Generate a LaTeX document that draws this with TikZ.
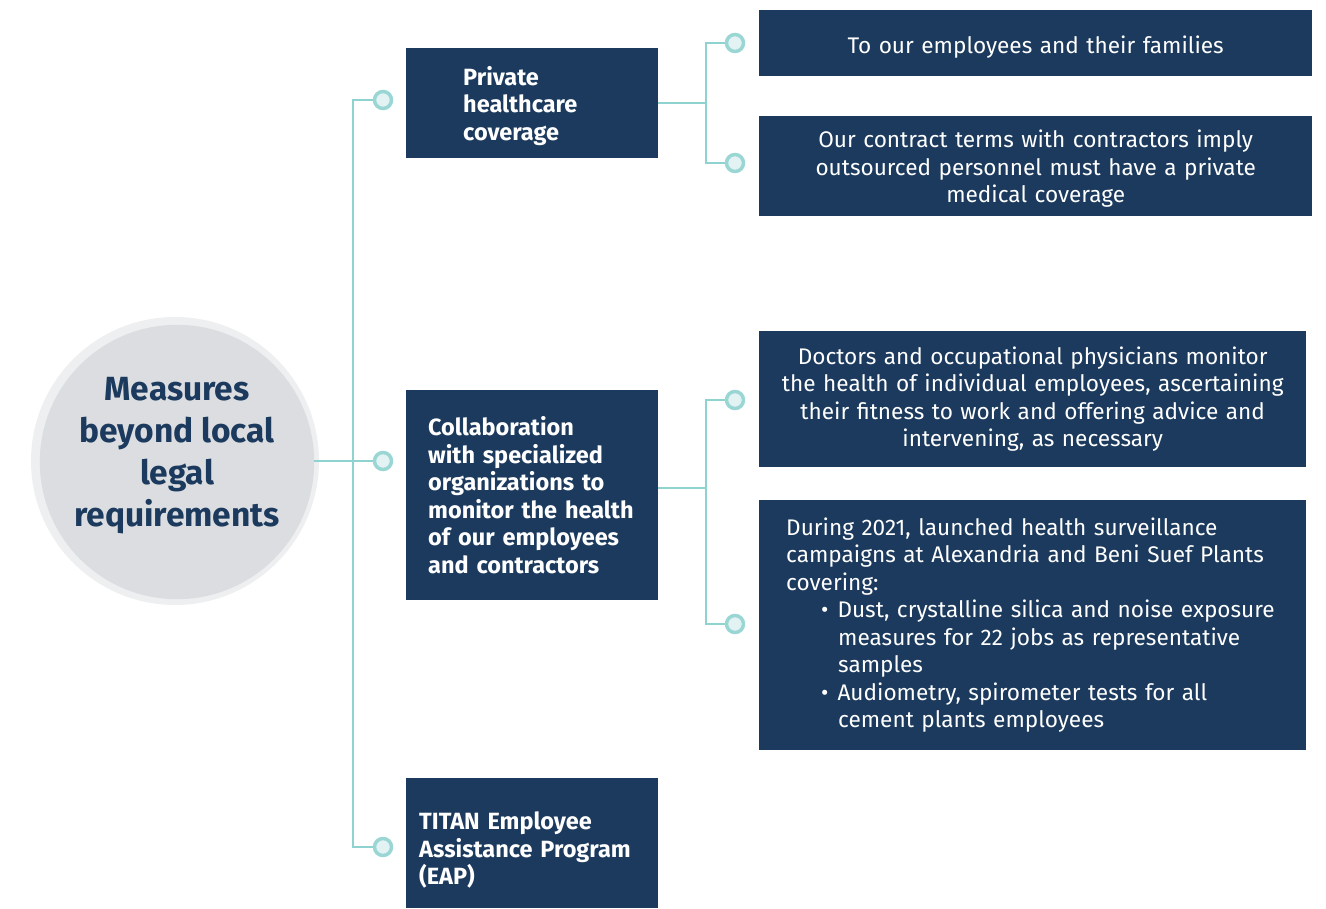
\documentclass[tikz,border=0pt]{standalone}
\usepackage{fontspec}
\setmainfont{Fira Sans}
\definecolor{navy}{HTML}{1B3A5D}
\definecolor{teal2}{HTML}{8FD3D0}
\definecolor{ring}{HTML}{9AD7D4}
\definecolor{ringfill}{HTML}{E3F3F3}
\definecolor{disc}{HTML}{DCDDE0}
\definecolor{halo}{HTML}{EEEFF0}
\begin{document}
\begin{tikzpicture}[x=1pt,y=-1pt,
    link/.style={draw=teal2, line width=2pt},
    dot/.style={circle, draw=ring, line width=3.5pt, fill=ringfill, minimum size=17pt, inner sep=0pt},
    lbox/.style={fill=navy, text=white, anchor=north west, align=left, inner ysep=0pt,
        font=\bfseries\fontsize{23.5}{27.5}\selectfont},
    rbox/.style={fill=navy, text=white, anchor=north west, align=center, inner xsep=0pt, inner ysep=0pt,
        font=\fontsize{22.6}{27.5}\selectfont}]
\useasboundingbox (0,0) rectangle (1326,909);

% root circle
\fill[halo] (175,461) circle (144);
\node[circle, fill=disc, minimum size=272pt, inner sep=0pt, text=navy,
    font=\bfseries\fontsize{33.5}{42}\selectfont] (root) at (177,462)
    {\begin{tabular}{@{}c@{}}Measures\\beyond local\\legal\\requirements\\[14pt]\end{tabular}};

% first level
\node[lbox, minimum height=110pt, inner xsep=57pt, text width=138pt] (hc) at (406,48)
    {\rule{0pt}{24pt}Private\\healthcare\\coverage};
\node[lbox, minimum height=210pt, inner xsep=22pt, text width=208pt] (co) at (406,390)
    {Collaboration\\with specialized\\organizations to\\monitor the health\\of our employees\\and contractors};
\node[lbox, minimum height=130pt, inner xsep=13pt, text width=226pt] (eap) at (406,778)
    {\rule{0pt}{31.5pt}TITAN Employee\\Assistance Program\\(EAP)};

% second level
\node[rbox, minimum height=66pt, text width=553pt] (fam) at (759,10)
    {\rule{0pt}{25pt}To our employees and their families};
\node[rbox, minimum height=100pt, text width=553pt] (ctr) at (759,116)
    {\rule{0pt}{23pt}Our contract terms with contractors imply\\outsourced personnel must have a private\\medical coverage};
\node[rbox, minimum height=136pt, text width=547pt] (doc) at (759,331)
    {Doctors and occupational physicians monitor\\the health of individual employees, ascertaining\\their fitness to work and offering advice and\\intervening, as necessary};
\node[rbox, align=left, minimum height=250pt, inner xsep=27pt, text width=493pt] (sur) at (759,500)
    {During 2021, launched health surveillance\\campaigns at Alexandria and Beni Suef Plants\\covering:\\
    \hspace*{35pt}\textbullet\hspace{9pt}Dust, crystalline silica and noise exposure\\
    \hspace*{52pt}measures for 22 jobs as representative\\
    \hspace*{52pt}samples\\
    \hspace*{35pt}\textbullet\hspace{9pt}Audiometry, spirometer tests for all\\
    \hspace*{52pt}cement plants employees};

% markers
\node[dot] (m1) at (383,100) {};
\node[dot] (m2) at (383,461) {};
\node[dot] (m3) at (383,847) {};
\node[dot] (mA) at (735,43) {};
\node[dot] (mB) at (735,163) {};
\node[dot] (mC) at (735,400) {};
\node[dot] (mD) at (735,624) {};

% connectors
\coordinate (j0) at (353,461);
\coordinate (j1) at (706,103);
\coordinate (j2) at (706,488);
\draw[link] (root.east |- j0) -- (j0) -- (m2.west);
\draw[link] (m1.west) -| (j0) |- (m3.west);
\draw[link] (hc.east |- j1) -- (j1);
\draw[link] (mA.west) -| (j1) |- (mB.west);
\draw[link] (co.east |- j2) -- (j2);
\draw[link] (mC.west) -| (j2) |- (mD.west);
\end{tikzpicture}
\end{document}
